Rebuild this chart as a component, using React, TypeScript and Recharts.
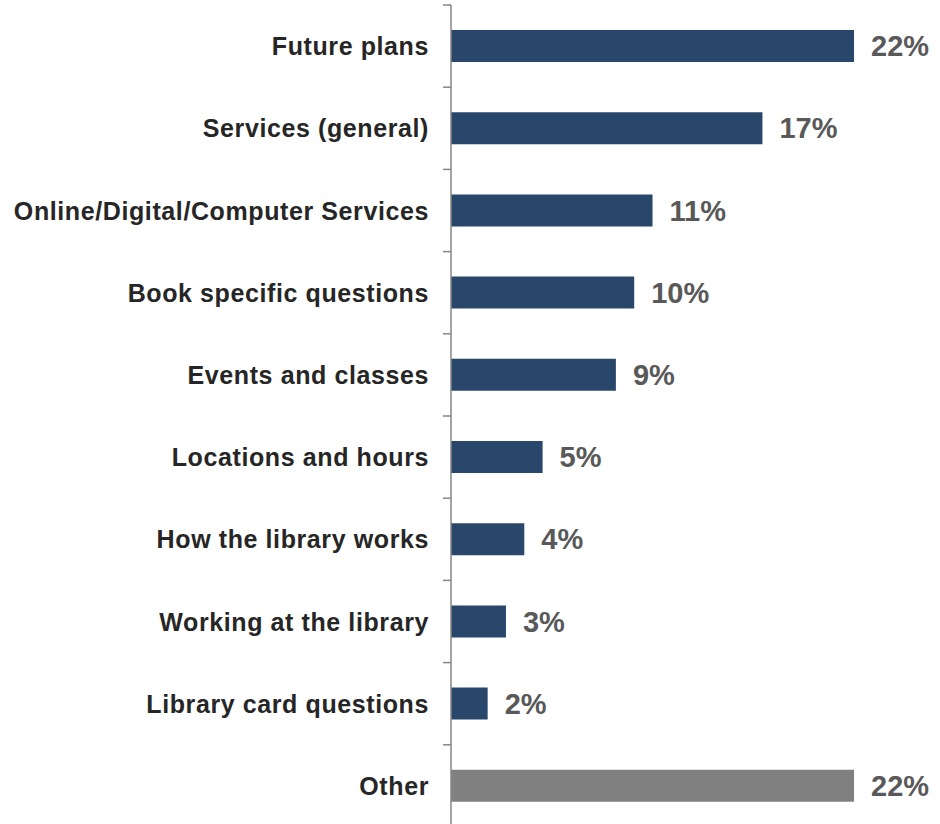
import { BarChart, Bar, XAxis, YAxis, Cell, LabelList } from "recharts"

const categories = [
  "Future plans",
  "Services (general)",
  "Online/Digital/Computer Services",
  "Book specific questions",
  "Events and classes",
  "Locations and hours",
  "How the library works",
  "Working at the library",
  "Library card questions",
  "Other",
]
const shares = [22, 17, 11, 10, 9, 5, 4, 3, 2, 22]

const chartData = categories.map((name, i) => ({ name, value: shares[i] }))

const FONT = '"Liberation Sans", Arial, sans-serif'

// label on the left, small tick mark at the top edge of each band
const CategoryTick = (props: any) => {
  const { x, y, payload } = props
  const half = payload?.offset ?? 41
  return (
    <g>
      <line x1={x - 8} x2={x} y1={y - half} y2={y - half} stroke="#868686" strokeWidth={1.5} />
      <text
        x={x - 22}
        y={y}
        textAnchor="end"
        dominantBaseline="central"
        fontFamily={FONT}
        fontWeight="bold"
        fontSize={25}
        letterSpacing={0.6}
        fill="#262626"
      >
        {payload.value}
      </text>
    </g>
  )
}

export default function App() {
  return (
    <div style={{ position: "absolute", left: 0, top: 0, width: 940, height: 824, overflow: "hidden", background: "#fff" }}>
      <BarChart
        layout="vertical"
        width={940}
        height={828}
        data={chartData}
        margin={{ top: 5, right: 31, left: 0, bottom: 1 }}
      >
        <XAxis type="number" domain={[0, 25]} hide />
        <YAxis
          type="category"
          dataKey="name"
          width={451}
          tickLine={false}
          tickSize={0}
          tickMargin={0}
          axisLine={{ stroke: "#868686", strokeWidth: 1.5 }}
          tick={<CategoryTick />}
          interval={0}
        />
        <Bar dataKey="value" barSize={32} isAnimationActive={false}>
          {chartData.map((d) => (
            <Cell key={d.name} fill={d.name === "Other" ? "#808080" : "#29466B"} />
          ))}
          <LabelList
            dataKey="value"
            position="right"
            offset={17}
            formatter={(v: any) => `${v}%`}
            style={{ fontFamily: FONT, fontWeight: "bold", fontSize: 29, fill: "#595959" }}
          />
        </Bar>
      </BarChart>
    </div>
  )
}
